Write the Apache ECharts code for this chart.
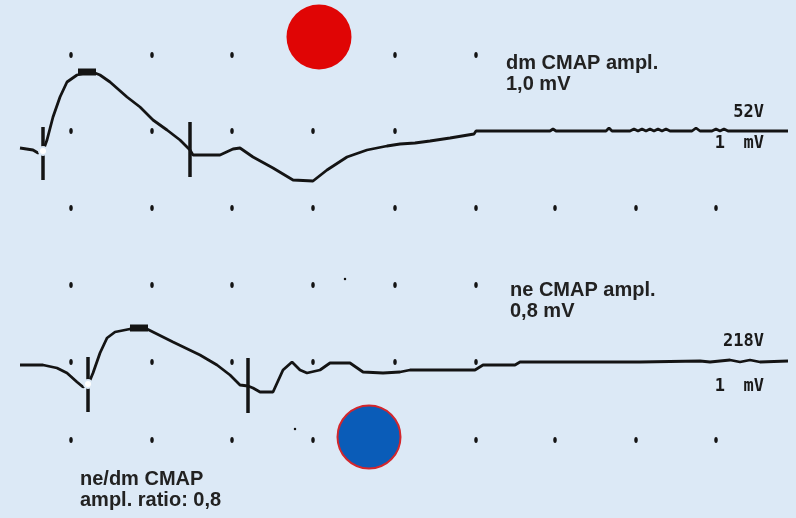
<!DOCTYPE html>
<html>
<head>
<meta charset="utf-8">
<script src="https://cdn.jsdelivr.net/npm/echarts@6/dist/echarts.min.js"></script>
<style>html,body{margin:0;padding:0;background:#dce9f6;}#c{width:796px;height:518px;}</style>
</head>
<body>
<div id="c"></div>
<script>
var topTrace = [[20,148],[33,150],[38,153],[43,151],[47,140],[53,117],[60,97],[67,82],[77,75],[86,73],[95,73],[100,75],[110,82],[127,97],[140,107],[153,120],[167,130],[180,140],[190,150],[193,155],[220,155],[233,149],[240,148],[253,157],[273,168],[293,180],[313,181],[327,170],[347,157],[367,150],[387,146],[400,144],[415,143],[430,141],[450,138],[474,134],[476,131],[550,131],[553,129],[556,131],[606,131],[609,128],[612,131],[630,131],[634,129],[638,131],[642,129],[646,131],[650,129],[654,131],[658,129],[662,131],[666,129],[670,131],[692,131],[696,128],[700,131],[712,131],[716,129],[720,131],[724,129],[728,131],[788,131]];
var bottomTrace = [[20,365],[43,365],[57,368],[67,373],[77,382],[83,387],[88,385],[93,373],[100,353],[107,338],[115,332],[130,329],[147,329],[153,332],[173,342],[200,355],[217,365],[230,375],[240,385],[248,386],[253,388],[260,392],[273,392],[283,370],[292,362],[300,370],[307,373],[320,370],[330,363],[350,363],[363,372],[383,373],[400,372],[410,370],[475,370],[483,365],[515,365],[520,362],[640,362],[700,361],[710,362],[730,360],[740,362],[750,360],[760,362],[788,361]];
var peakTop = [[78,72],[96,72]];
var peakBottom = [[130,328],[148,328]];
var stimMarkers = [[[43,127],[43,180]],[[190,122],[190,177]],[[88,357],[88,412]],[[248,358],[248,413]]];
var markerRings = [[43,151],[88,384]];
var gridCols = [71,152,232,313,395,476,555,636,716];
var gridRowsY = [55,131,208,285,362,440];
var gridRowCounts = [6,5,9,6,6,9];   // how many columns visible per row
var hiddenDots = [[313,55],[395,440]]; // covered by the circles
var strayDots = [[345,279],[295,429]];
var redCircle = [[319,37]];
var blueCircle = [[369,437]];
var labelsTop = ['dm CMAP ampl.','1,0 mV'];
var labelsBottom = ['ne CMAP ampl.','0,8 mV'];
var labelsRatio = ['ne/dm CMAP','ampl. ratio: 0,8'];
var gainTop = ['52V','1','mV'];
var gainBottom = ['218V','1','mV'];

var dots = [];
gridRowsY.forEach(function(y, r){
  for (var i = 0; i < gridRowCounts[r]; i++) {
    var x = gridCols[i];
    var hid = hiddenDots.some(function(h){return h[0]===x && h[1]===y;});
    if (!hid) dots.push([x,y]);
  }
});

var ink = '#141414';
var bg = '#dce9f6';
var series = [
  {type:'scatter', data:dots, symbol:'circle', symbolSize:[3.5,6], itemStyle:{color:ink, opacity:1}, silent:true},
  {type:'scatter', data:strayDots, symbol:'circle', symbolSize:2.5, itemStyle:{color:ink, opacity:1}, silent:true},
  {type:'line', data:topTrace, showSymbol:false, lineStyle:{color:ink, width:2.8}, silent:true},
  {type:'line', data:bottomTrace, showSymbol:false, lineStyle:{color:ink, width:2.8}, silent:true},
  {type:'line', data:peakTop, showSymbol:false, lineStyle:{color:ink, width:7}, silent:true},
  {type:'line', data:peakBottom, showSymbol:false, lineStyle:{color:ink, width:7}, silent:true},
  {type:'scatter', data:markerRings, symbol:'emptyCircle', symbolSize:8, itemStyle:{color:bg, borderColor:ink, borderWidth:2.5, opacity:1}, silent:true, z:5},
  {type:'scatter', data:redCircle, symbol:'circle', symbolSize:65, itemStyle:{color:'#e00505', opacity:1}, silent:true, z:6},
  {type:'scatter', data:blueCircle, symbol:'circle', symbolSize:63, itemStyle:{color:'#0a5cb8', borderColor:'#d3262c', borderWidth:2, opacity:1}, silent:true, z:6}
];
stimMarkers.forEach(function(m){
  series.push({type:'line', data:m, showSymbol:false, lineStyle:{color:ink, width:3.5}, silent:true, z:4});
});

function txt(lines, x, y) {
  return {type:'text', left:x, top:y, style:{text:lines.join('\n'), fill:'#222', font:'bold 20px "Liberation Sans", Arial, sans-serif', lineHeight:21}};
}
function mono(t, right, top) {
  return {type:'text', right:right, top:top, style:{text:t, fill:'#1a1a1a', font:'bold 17px "DejaVu Sans Mono", monospace'}};
}

var chart = echarts.init(document.getElementById('c'));
chart.setOption({
  backgroundColor:bg,
  animation:false,
  grid:{left:0,right:0,top:0,bottom:0},
  xAxis:{type:'value', min:0, max:796, show:false},
  yAxis:{type:'value', min:0, max:518, inverse:true, show:false},
  series:series,
  graphic:[
    txt(labelsTop, 506, 53),
    txt(labelsBottom, 510, 280),
    txt(labelsRatio, 80, 469),
    mono(gainTop[0], 32, 104),
    mono(gainTop[1], 71, 135),
    mono(gainTop[2], 32, 135),
    mono(gainBottom[0], 32, 333),
    mono(gainBottom[1], 71, 378),
    mono(gainBottom[2], 32, 378)
  ]
});
</script>
</body>
</html>
